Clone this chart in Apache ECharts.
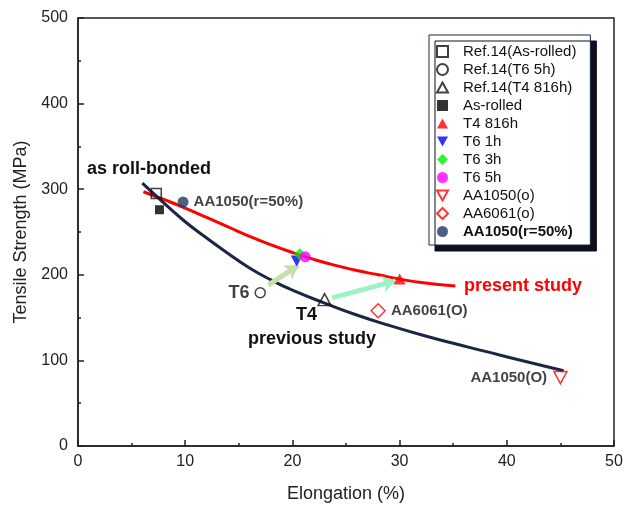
<!DOCTYPE html>
<html>
<head>
<meta charset="utf-8">
<script src="https://cdn.jsdelivr.net/npm/echarts@6/dist/echarts.min.js"></script>
<style>
  html, body { margin: 0; padding: 0; background: #fff; }
  #chart { width: 637px; height: 510px; }
</style>
</head>
<body>
<div id="chart"></div>
<script>
// elongation (%), tensile strength (MPa)
const ref14AsRolled = [[7.3, 295]];
const ref14T6 = [[17.0, 179]];
const ref14T4 = [[23.0, 171]];
const asRolled = [[7.6, 276]];
const t4_816h = [[30.0, 195]];
const t6_1h = [[20.4, 216]];
const t6_3h = [[20.7, 224]];
const t6_5h = [[21.2, 221]];
const aa1050O = [[45.0, 80]];
const aa6061O = [[28.0, 158]];
const aa1050r50 = [[9.8, 285]];

// trend curves as drawn
const presentCurve = [[6.1, 297], [8, 288], [10, 278], [12, 267], [14, 256], [16, 245], [18, 235],
  [20, 226], [22, 218], [24, 211], [26, 205], [28, 200], [30, 195], [32, 191], [35.2, 187]];
const previousCurve = [[6.0, 307], [8, 284], [10, 262], [12, 243], [14, 225], [16, 208], [18, 194],
  [20, 182], [23, 167], [26, 153], [29, 141], [32, 130], [35, 120], [38, 110.5], [41, 101], [45.3, 88]];

// aging arrows (from -> to)
const arrowT6 = [[17.75, 188], [20.55, 211]];
const arrowT4 = [[23.7, 173], [29.6, 193]];

const xTicks = { min: 0, max: 50, step: 10 };
const yTicks = { min: 0, max: 500, step: 100 };

const FONT = 'Liberation Sans';
const downTri = 'path://M0,0 L10,0 L5,9 Z';
const upTri = 'path://M5,0 L10,9 L0,9 Z';

const chart = echarts.init(document.getElementById('chart'), null, { renderer: 'canvas' });

function open(color) {
  return { color: 'rgba(0,0,0,0)', borderColor: color, borderWidth: 1.5 };
}

const boldLbl = { show: true, fontFamily: FONT, fontWeight: 'bold', fontSize: 15, color: '#111' };
const noteFont = 'bold 18px "Liberation Sans"';

const option = {
  animation: false,
  grid: { left: 78, top: 18, right: 23, bottom: 64, show: true, borderColor: '#222', borderWidth: 1.5 },
  xAxis: {
    type: 'value', min: xTicks.min, max: xTicks.max, interval: xTicks.step,
    name: 'Elongation (%)', nameLocation: 'middle', nameGap: 39,
    nameTextStyle: { fontFamily: FONT, fontSize: 18, color: '#222' },
    axisLine: { lineStyle: { color: '#222', width: 1.5 } },
    axisTick: { inside: true, length: 6, lineStyle: { color: '#222', width: 1.5 } },
    minorTick: { show: true, splitNumber: 2, length: 3, lineStyle: { color: '#222', width: 1.5 } },
    axisLabel: { fontFamily: FONT, fontSize: 16, color: '#222', margin: 8 },
    splitLine: { show: false }
  },
  yAxis: {
    type: 'value', min: yTicks.min, max: yTicks.max, interval: yTicks.step,
    name: 'Tensile Strength (MPa)', nameLocation: 'middle', nameGap: 40,
    nameTextStyle: { fontFamily: FONT, fontSize: 18, color: '#222' },
    axisLine: { lineStyle: { color: '#222', width: 1.5 } },
    axisTick: { inside: true, length: 6, lineStyle: { color: '#222', width: 1.5 } },
    minorTick: { show: true, splitNumber: 2, length: 3, lineStyle: { color: '#222', width: 1.5 } },
    axisLabel: { fontFamily: FONT, fontSize: 16, color: '#222', margin: 10 },
    splitLine: { show: false }
  },
  legend: {
    orient: 'vertical', left: 429, top: 35,
    padding: [9, 14, 6, 7], itemGap: 3, itemWidth: 11, itemHeight: 11,
    backgroundColor: '#fff', borderColor: '#1a2744', borderWidth: 1,
    shadowColor: '#0d1020', shadowBlur: 0, shadowOffsetX: 6, shadowOffsetY: 6,
    textStyle: { fontFamily: FONT, fontSize: 15, color: '#111', padding: [0, 0, 0, 10] },
    data: [
      'Ref.14(As-rolled)', 'Ref.14(T6 5h)', 'Ref.14(T4 816h)', 'As-rolled', 'T4 816h',
      'T6 1h', 'T6 3h', 'T6 5h', 'AA1050(o)', 'AA6061(o)',
      { name: 'AA1050(r=50%)', textStyle: { fontWeight: 'bold' } }
    ]
  },
  graphic: [
    { type: 'text', left: 87, top: 160, style: { text: 'as roll-bonded', font: noteFont, fill: '#111' } },
    { type: 'text', left: 296, top: 306, style: { text: 'T4', font: noteFont, fill: '#111' } },
    { type: 'text', left: 248, top: 330, style: { text: 'previous study', font: noteFont, fill: '#111' } },
    { type: 'text', left: 464, top: 277, style: { text: 'present study', font: noteFont, fill: '#ff0000' } }
  ],
  series: [
    {
      type: 'line', data: presentCurve, smooth: 0.5, showSymbol: false, silent: true, z: 2,
      lineStyle: { color: '#ff0000', width: 3 }
    },
    {
      type: 'line', data: previousCurve, smooth: 0.5, showSymbol: false, silent: true, z: 2,
      lineStyle: { color: '#1a2744', width: 3 }
    },
    {
      type: 'lines', coordinateSystem: 'cartesian2d', z: 3, silent: true,
      symbol: ['none', 'arrow'], symbolSize: 13,
      lineStyle: { color: '#c5dfa8', width: 5, opacity: 1 },
      data: [{ coords: arrowT6 }]
    },
    {
      type: 'lines', coordinateSystem: 'cartesian2d', z: 3, silent: true,
      symbol: ['none', 'arrow'], symbolSize: 13,
      lineStyle: { color: '#9ef3c6', width: 5, opacity: 1 },
      data: [{ coords: arrowT4 }]
    },
    { name: 'Ref.14(As-rolled)', type: 'scatter', data: ref14AsRolled, symbol: 'rect', symbolSize: 10, z: 5, itemStyle: open('#111') },
    {
      name: 'Ref.14(T6 5h)', type: 'scatter', data: ref14T6, symbol: 'circle', symbolSize: 10, z: 5, itemStyle: open('#111'),
      label: Object.assign({}, boldLbl, { formatter: 'T6', position: 'left', distance: 5, fontSize: 18 })
    },
    { name: 'Ref.14(T4 816h)', type: 'scatter', data: ref14T4, symbol: upTri, symbolSize: [13, 12], z: 5, itemStyle: open('#111') },
    { name: 'As-rolled', type: 'scatter', data: asRolled, symbol: 'rect', symbolSize: 9, z: 5, itemStyle: { color: '#000' } },
    { name: 'T4 816h', type: 'scatter', data: t4_816h, symbol: upTri, symbolSize: [12, 11], z: 5, itemStyle: { color: '#ff0000' } },
    { name: 'T6 1h', type: 'scatter', data: t6_1h, symbol: downTri, symbolSize: [12, 11], z: 5, itemStyle: { color: '#0000ff' } },
    { name: 'T6 3h', type: 'scatter', data: t6_3h, symbol: 'diamond', symbolSize: 12, z: 5, itemStyle: { color: '#00ee00' } },
    { name: 'T6 5h', type: 'scatter', data: t6_5h, symbol: 'circle', symbolSize: 11, z: 5, itemStyle: { color: '#ff00ff' } },
    {
      name: 'AA1050(o)', type: 'scatter', data: aa1050O, symbol: downTri, symbolSize: [13, 12], z: 5, itemStyle: open('#ff0000'),
      label: Object.assign({}, boldLbl, { formatter: 'AA1050(O)', position: 'left', distance: 6 })
    },
    {
      name: 'AA6061(o)', type: 'scatter', data: aa6061O, symbol: 'diamond', symbolSize: 14, z: 5, itemStyle: open('#ff0000'),
      label: Object.assign({}, boldLbl, { formatter: 'AA6061(O)', position: 'right', distance: 5 })
    },
    {
      name: 'AA1050(r=50%)', type: 'scatter', data: aa1050r50, symbol: 'circle', symbolSize: 11, z: 5, itemStyle: { color: '#1f3864' },
      label: Object.assign({}, boldLbl, { formatter: 'AA1050(r=50%)', position: 'right', distance: 5 })
    }
  ]
};

chart.setOption(option);
</script>
</body>
</html>
